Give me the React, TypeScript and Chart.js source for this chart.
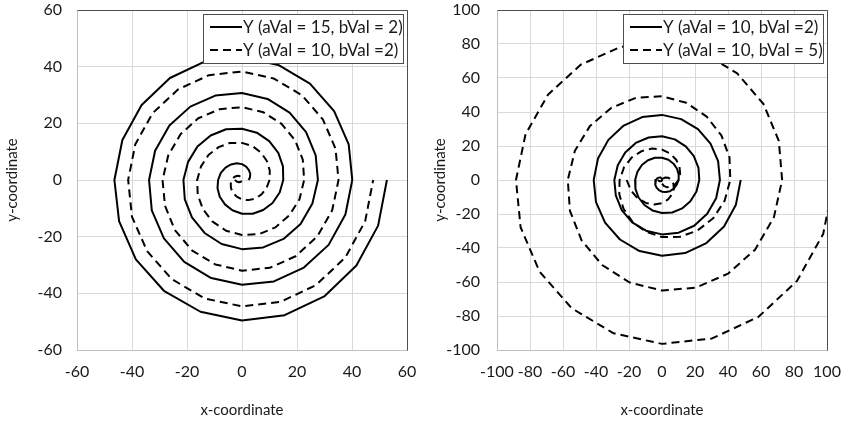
import React, { useEffect, useRef } from "react";
import { Chart, registerables } from "chart.js";

Chart.register(...registerables);

// ---------- tick labels ----------
const leftTicks = [-60, -40, -20, 0, 20, 40, 60];
const rightTicks = [-100, -80, -60, -40, -20, 0, 20, 40, 60, 80, 100];

// ---------- series labels ----------
const labelA15B2 = "Y (aVal = 15, bVal = 2)";
const labelA10B2 = "Y (aVal = 10, bVal =2)";
const labelA10B5 = "Y (aVal = 10, bVal = 5)";

// ---------- spiral aVal = 15, bVal = 2 ----------
const spiralA15B2X = [
  2.4, 2.9, 3.0, 2.5, 1.5, 0, -1.9, -4.0, -6.0, -7.7,
  -8.7, -8.9, -8.1, -6.2, -3.5, 0, 3.9, 7.7, 11.1, 13.7,
  15.0, 14.9, 13.2, 9.9, 5.4, 0, -5.8, -11.4, -16.2, -19.6,
  -21.3, -20.8, -18.2, -13.6, -7.4, 0, 7.7, 15.1, 21.3, 25.6,
  27.6, 26.8, 23.3, 17.3, 9.3, 0, -9.7, -18.8, -26.4, -31.6,
  -33.8, -32.8, -28.4, -21.0, -11.2, 0, 11.6, 22.5, 31.5, 37.6,
  40.1, 38.8, 33.5, 24.7, 13.2, 0, -13.6, -26.2, -36.5, -43.5,
  -46.4, -44.7, -38.6, -28.4, -15.1, 0, 15.5, 29.9, 41.6, 49.5,
  52.7,
];
const spiralA15B2Y = [
  0, 0.9, 2.2, 3.5, 4.7, 5.6, 5.9, 5.5, 4.4, 2.5,
  0, -2.9, -5.9, -8.6, -10.7, -11.9, -11.9, -10.6, -8.1, -4.4,
  0, 4.8, 9.6, 13.7, 16.7, 18.1, 17.9, 15.7, 11.8, 6.4,
  0, -6.8, -13.2, -18.7, -22.6, -24.4, -23.8, -20.8, -15.5, -8.3,
  0, 8.7, 16.9, 23.8, 28.6, 30.7, 29.8, 25.9, 19.2, 10.3,
  0, -10.7, -20.6, -28.9, -34.6, -37.0, -35.8, -30.9, -22.9, -12.2,
  0, 12.6, 24.3, 34.0, 40.6, 43.3, 41.8, 36.0, 26.5, 14.1,
  0, -14.5, -28.0, -39.1, -46.5, -49.6, -47.7, -41.1, -30.2, -16.1,
  0,
];

// ---------- spiral aVal = 10, bVal = 2 ----------
const spiralA10B2X = [
  -2.6, -1.8, -1.1, -0.4, 0.0, 0, -0.4, -1.1, -2.0, -2.9,
  -3.7, -4.1, -4.0, -3.3, -1.9, 0, 2.3, 4.8, 7.1, 8.9,
  10.0, 10.1, 9.1, 7.0, 3.9, 0, -4.3, -8.5, -12.2, -14.9,
  -16.3, -16.1, -14.2, -10.7, -5.8, 0, 6.2, 12.2, 17.2, 20.9,
  22.6, 22.1, 19.3, 14.4, 7.8, 0, -8.1, -15.9, -22.3, -26.8,
  -28.9, -28.0, -24.4, -18.1, -9.7, 0, 10.1, 19.5, 27.4, 32.8,
  35.1, 34.0, 29.4, 21.8, 11.6, 0, -12.0, -23.2, -32.5, -38.8,
  -41.4, -40.0, -34.5, -25.5, -13.6, 0, 14.0, 26.9, 37.6, 44.8,
  47.7,
];
const spiralA10B2Y = [
  0, -0.6, -0.8, -0.6, -0.1, 0.6, 1.1, 1.5, 1.4, 1.0,
  0, -1.3, -2.9, -4.5, -5.9, -6.9, -7.1, -6.6, -5.1, -2.9,
  0, 3.3, 6.6, 9.6, 11.9, 13.1, 13.1, 11.6, 8.8, 4.8,
  0, -5.2, -10.3, -14.7, -17.9, -19.4, -19.1, -16.7, -12.5, -6.8,
  0, 7.2, 14.0, 19.8, 23.9, 25.7, 25.0, 21.8, 16.2, 8.7,
  0, -9.1, -17.7, -24.9, -29.8, -32.0, -31.0, -26.9, -19.9, -10.7,
  0, 11.1, 21.4, 29.9, 35.8, 38.3, 37.0, 32.0, 23.6, 12.6,
  0, -13.0, -25.1, -35.0, -41.8, -44.6, -43.0, -37.1, -27.3, -14.5,
  0,
];

// ---------- spiral aVal = 10, bVal = 5 ----------
const spiralA10B5X = [
  -21.4, -18.9, -14.8, -9.8, -4.7, 0, 3.7, 6.1, 7.2, 6.9,
  5.7, 3.9, 2.1, 0.6, -0.2, 0, 1.1, 3.1, 5.5, 8.0,
  10.0, 11.0, 10.6, 8.6, 5.0, 0, -6.0, -12.3, -18.3, -23.0,
  -25.7, -25.9, -23.3, -17.9, -9.9, 0, 10.9, 21.6, 31.0, 37.9,
  41.4, 40.9, 36.0, 27.1, 14.7, 0, -15.7, -30.8, -43.7, -52.8,
  -57.1, -55.8, -48.8, -36.3, -19.6, 0, 20.6, 40.0, 56.4, 67.8,
  72.8, 70.8, 61.5, 45.6, 24.4, 0, -25.4, -49.3, -69.1, -82.7,
  -88.5, -85.7, -74.2, -54.8, -29.3, 0, 30.3, 58.5, 81.8, 97.7,
  104.2,
];
const spiralA10B5Y = [
  0, -6.1, -10.7, -13.5, -14.4, -13.6, -11.4, -8.4, -5.2, -2.2,
  0, 1.3, 1.5, 0.8, -0.5, -2.1, -3.5, -4.3, -4.0, -2.6,
  0, 3.6, 7.7, 11.9, 15.5, 17.9, 18.5, 17.0, 13.3, 7.5,
  0, -8.4, -17.0, -24.6, -30.4, -33.6, -33.4, -29.7, -22.5, -12.3,
  0, 13.3, 26.2, 37.3, 45.4, 49.3, 48.4, 42.4, 31.7, 17.2,
  0, -18.1, -35.4, -50.0, -60.3, -65.0, -63.3, -55.1, -41.0, -22.0,
  0, 23.0, 44.7, 62.7, 75.2, 80.7, 78.2, 67.8, 50.2, 26.9,
  0, -27.8, -53.9, -75.4, -90.2, -96.4, -93.2, -80.5, -59.4, -31.7,
  0,
];

const FONT = "Lato, 'Open Sans', sans-serif";
const TEXT = "#1a1a1a";

const toPoints = (xs: number[], ys: number[]) => xs.map((x, i) => ({ x, y: ys[i] }));

const alignPx = (p: number) => Math.round(p - 0.5) + 0.5;

const frameLegendPlugin = {
  id: "frameLegend",
  afterDatasetsDraw(chart: any, _args: any, opts: any) {
    const { ctx, chartArea: ca } = chart;
    ctx.save();
    // dark top and right frame
    ctx.strokeStyle = opts.frameColor;
    ctx.lineWidth = 1;
    ctx.setLineDash([]);
    const top = alignPx(ca.top);
    const right = alignPx(ca.right);
    ctx.beginPath();
    ctx.moveTo(alignPx(ca.left), top);
    ctx.lineTo(right, top);
    ctx.lineTo(right, alignPx(ca.bottom));
    ctx.stroke();

    // legend box
    const w = opts.width;
    const h = opts.height;
    const bx = Math.round(ca.right - opts.insetRight - w);
    const by = Math.round(ca.top + opts.insetTop);
    ctx.fillStyle = "#ffffff";
    ctx.fillRect(bx, by, w, h);
    ctx.strokeStyle = opts.borderColor;
    ctx.lineWidth = 1;
    ctx.strokeRect(bx + 0.5, by + 0.5, w, h);

    chart.data.datasets.forEach((ds: any, i: number) => {
      const cy = by + opts.rowY[i];
      ctx.save();
      ctx.strokeStyle = ds.borderColor;
      ctx.lineWidth = ds.borderWidth;
      ctx.setLineDash(ds.borderDash || []);
      ctx.beginPath();
      ctx.moveTo(bx + opts.sampleX, cy);
      ctx.lineTo(bx + opts.sampleX + opts.sampleLen, cy);
      ctx.stroke();
      ctx.restore();
      ctx.fillStyle = TEXT;
      ctx.font = `${opts.fontSize}px ${FONT}`;
      ctx.textBaseline = "middle";
      ctx.textAlign = "left";
      ctx.fillText(ds.label, bx + opts.textX, cy + 0.5);
    });
    ctx.restore();
  },
};

const zeroPadding = (s: any) => {
  s.paddingTop = 0;
  s.paddingBottom = 0;
  s.paddingLeft = 0;
  s.paddingRight = 0;
};

type PanelProps = {
  ticks: number[];
  datasets: any[];
  yAxisWidth: number;
  padRight: number;
  yTitlePad: number;
  yTickPad: number;
};

function Panel({ ticks, datasets, yAxisWidth, padRight, yTitlePad, yTickPad }: PanelProps) {
  const ref = useRef<HTMLCanvasElement | null>(null);
  useEffect(() => {
    if (!ref.current) return;
    const min = ticks[0];
    const max = ticks[ticks.length - 1];
    const step = ticks[1] - ticks[0];
    const tickFont = { family: FONT, size: 16 };
    const titleFont = { family: FONT, size: 15 };
    const chart = new Chart(ref.current, {
      type: "scatter",
      data: { datasets },
      plugins: [frameLegendPlugin],
      options: {
        responsive: false,
        animation: false,
        devicePixelRatio: 1,
        layout: { padding: { top: 10, right: padRight, bottom: 0, left: 0 } },
        plugins: {
          legend: { display: false },
          tooltip: { enabled: false },
          frameLegend: {
            frameColor: "#4d4d4d",
            borderColor: "#4d4d4d",
            width: 200,
            height: 49,
            insetRight: 4,
            insetTop: 4,
            rowY: [13, 36],
            sampleX: 7,
            sampleLen: 32,
            textX: 40,
            fontSize: 17,
          },
        } as any,
        scales: {
          x: {
            type: "linear",
            min,
            max,
            afterFit: (s: any) => {
              s.height = 73;
              zeroPadding(s);
            },
            ticks: {
              stepSize: step,
              autoSkip: false,
              maxRotation: 0,
              padding: 12,
              color: TEXT,
              font: tickFont,
            },
            grid: { color: "#d9d9d9", drawTicks: false, lineWidth: 1 },
            border: { color: "#bfbfbf" },
            title: {
              display: true,
              text: "x-coordinate",
              color: TEXT,
              font: titleFont,
              padding: { top: 0, bottom: 4 },
            },
          },
          y: {
            type: "linear",
            min,
            max,
            afterFit: (s: any) => {
              s.width = yAxisWidth;
              zeroPadding(s);
            },
            ticks: {
              stepSize: step,
              autoSkip: false,
              padding: yTickPad,
              color: TEXT,
              font: tickFont,
            },
            grid: { color: "#d9d9d9", drawTicks: false, lineWidth: 1 },
            border: { color: "#bfbfbf" },
            title: {
              display: true,
              text: "y-coordinate",
              color: TEXT,
              font: titleFont,
              padding: { top: yTitlePad, bottom: 0 },
            },
          },
        },
      } as any,
    });
    return () => chart.destroy();
  }, []);
  return <canvas ref={ref} width={424} height={423} style={{ width: 424, height: 423, display: "block" }} />;
}

const lineStyle = (label: string, xs: number[], ys: number[], dashed: boolean) => ({
  label,
  data: toPoints(xs, ys),
  showLine: true,
  borderColor: "#000000",
  backgroundColor: "#000000",
  borderWidth: 2,
  borderDash: dashed ? [8, 5] : [],
  borderJoinStyle: "round",
  pointRadius: 0,
  pointHoverRadius: 0,
  tension: 0,
  fill: false,
});

export default function App() {
  const leftSets = [
    lineStyle(labelA15B2, spiralA15B2X, spiralA15B2Y, false),
    lineStyle(labelA10B2, spiralA10B2X, spiralA10B2Y, true),
  ];
  const rightSets = [
    lineStyle(labelA10B2, spiralA10B2X, spiralA10B2Y, false),
    lineStyle(labelA10B5, spiralA10B5X, spiralA10B5Y, true),
  ];
  return (
    <div
      style={{
        position: "absolute",
        left: 0,
        top: 0,
        width: 848,
        height: 423,
        display: "flex",
        background: "#ffffff",
      }}
    >
      <Panel ticks={leftTicks} datasets={leftSets} yAxisWidth={77} padRight={17} yTitlePad={3} yTickPad={15} />
      <Panel ticks={rightTicks} datasets={rightSets} yAxisWidth={73} padRight={21} yTitlePad={7} yTickPad={17} />
    </div>
  );
}
